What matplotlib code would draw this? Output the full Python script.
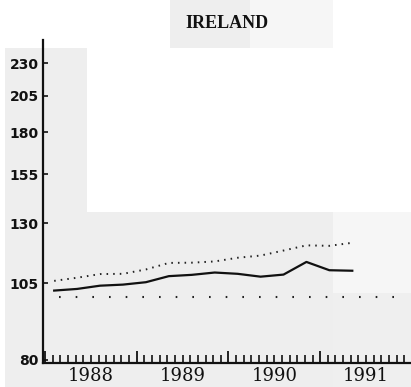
import matplotlib
matplotlib.use("Agg")
import matplotlib.pyplot as plt
from matplotlib.patches import Rectangle
from matplotlib.ticker import FixedLocator, NullLocator, NullFormatter

# ---- data ----
title = "IRELAND"
quarters = ["1988Q1", "1988Q2", "1988Q3", "1988Q4",
            "1989Q1", "1989Q2", "1989Q3", "1989Q4",
            "1990Q1", "1990Q2", "1990Q3", "1990Q4",
            "1991Q1", "1991Q2"]
solid_series = [102.3, 102.9, 104.1, 104.5, 105.4, 107.7, 108.2,
                109.1, 108.6, 107.5, 108.3, 113.3, 110.0, 109.8]
upper_series = [105.9, 107.1, 108.5, 108.6, 110.3, 112.9, 113.0,
                113.5, 115.0, 115.9, 118.0, 120.2, 120.0, 121.3]
baseline_value = 100
baseline_span = [1988.15, 1991.85]
ytick_values = [80, 105, 130, 155, 180, 205, 230]
year_labels = ["1988", "1989", "1990", "1991"]


def to_decimal(q):
    y, n = q.split("Q")
    return int(y) + (int(n) - 1) / 4 + 0.1


x = [to_decimal(q) for q in quarters]

W, H = 411, 387
fig = plt.figure(figsize=(W / 100, H / 100), dpi=100)


def frect(x0, y0, x1, y1, color):
    fig.patches.append(Rectangle((x0 / W, 1 - y1 / H), (x1 - x0) / W, (y1 - y0) / H,
                                 transform=fig.transFigure, facecolor=color,
                                 edgecolor="none", zorder=-10))


# scanned-page background tones
frect(5, 48, 87, 387, "#eeeeee")
frect(87, 212, 333, 387, "#eeeeee")
frect(333, 212, 411, 293, "#f6f6f6")
frect(333, 293, 411, 387, "#efefef")
frect(170, 0, 250, 48, "#eeeeee")
frect(250, 0, 333, 48, "#f6f6f6")

left, right, top, bottom = 42.7, 411, 40, 362.7
ax = fig.add_axes([left / W, 1 - bottom / H, (right - left) / W, (bottom - top) / H])
ax.set_zorder(5)
ax.patch.set_alpha(0)

ax.plot(x, solid_series, color="#111111", lw=1.6, solid_joinstyle="round")
ax.plot(x, upper_series, color="#222222", lw=1.4, linestyle=(0, (0.8, 2.6)))
ax.hlines(baseline_value, baseline_span[0], baseline_span[1], color="#222222",
          lw=1.5, linestyle=(0, (0.8, 7.2)))

ax.set_yscale("log")
ax.set_ylim(79.1, 250)
ax.set_xlim(1987.975, 1991.99)

ax.yaxis.set_major_locator(FixedLocator(ytick_values))
ax.yaxis.set_minor_locator(NullLocator())
ax.yaxis.set_minor_formatter(NullFormatter())
ax.set_yticklabels([str(v) for v in ytick_values],
                   fontdict={"family": "DejaVu Sans", "weight": "bold", "size": 10})
ax.tick_params(axis="y", direction="in", length=3.5, width=1.2, pad=3, colors="#111111")

years = [int(y) for y in year_labels]
ax.xaxis.set_major_locator(FixedLocator(years + [years[-1] + 1]))
ax.xaxis.set_minor_locator(FixedLocator([y + m / 12 for y in years for m in range(1, 12)]))
ax.xaxis.set_major_formatter(NullFormatter())
ax.xaxis.set_minor_formatter(NullFormatter())
ax.tick_params(axis="x", which="major", direction="in", length=8.5, width=1.3, colors="#111111")
ax.tick_params(axis="x", which="minor", direction="in", length=5.5, width=1.2, colors="#111111")
for y, lab in zip(years, year_labels):
    ax.text(y + 0.5, -0.012, lab, transform=ax.get_xaxis_transform(), ha="center", va="top",
            fontsize=13, family="DejaVu Serif", color="#111111")

for s in ["top", "right"]:
    ax.spines[s].set_visible(False)
for s in ["left", "bottom"]:
    ax.spines[s].set_linewidth(1.6)
    ax.spines[s].set_color("#111111")

fig.text(227 / W, 1 - 23 / H, title, ha="center", va="center", fontsize=13,
         family="Liberation Serif", weight="bold", color="#111111", zorder=6)

fig.savefig("out.png", dpi=100)
